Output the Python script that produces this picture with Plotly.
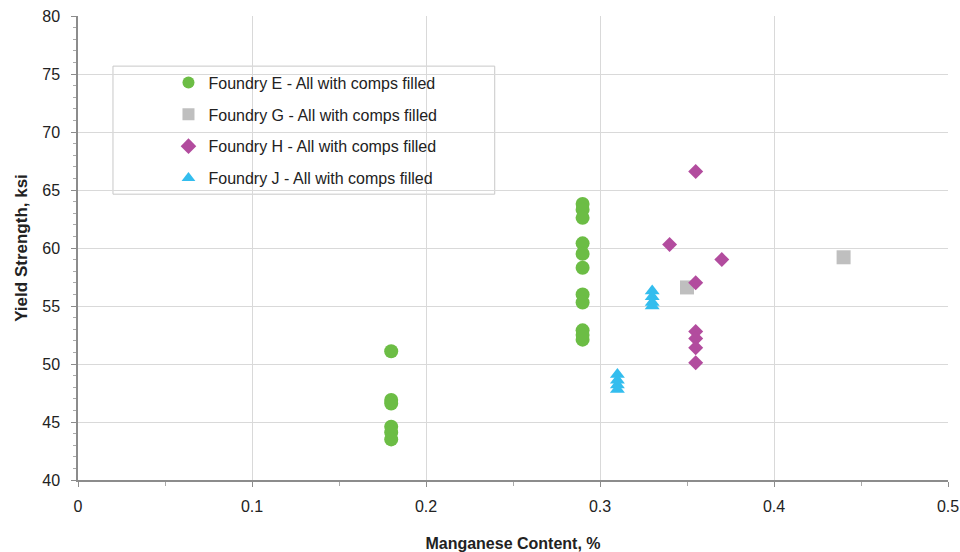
import plotly.graph_objects as go

# Foundry E
e_x = [0.18, 0.18, 0.18, 0.18, 0.18, 0.18,
       0.29, 0.29, 0.29, 0.29, 0.29, 0.29, 0.29, 0.29, 0.29, 0.29, 0.29]
e_y = [51.1, 46.9, 46.6, 44.6, 44.1, 43.5,
       63.8, 63.3, 62.6, 60.4, 59.5, 58.3, 56.0, 55.3, 52.9, 52.1, 52.5]
# Foundry G
g_x = [0.35, 0.44]
g_y = [56.6, 59.2]
# Foundry H
h_x = [0.355, 0.34, 0.37, 0.355, 0.355, 0.355, 0.355, 0.355]
h_y = [66.6, 60.3, 59.0, 57.0, 52.8, 52.2, 51.4, 50.1]
# Foundry J
j_x = [0.31, 0.31, 0.31, 0.31, 0.33, 0.33, 0.33, 0.33]
j_y = [49.1, 48.6, 48.2, 47.8, 56.3, 55.8, 55.3, 55.0]

names = ["Foundry E - All with comps filled", "Foundry G - All with comps filled",
         "Foundry H - All with comps filled", "Foundry J - All with comps filled"]

fig = go.Figure()
fig.add_trace(go.Scatter(x=e_x, y=e_y, mode="markers", name=names[0], legendgroup="E",
                         marker=dict(symbol="circle", size=14, color="#6CBD45")))
fig.add_trace(go.Scatter(x=g_x, y=g_y, mode="markers", name=names[1], legendgroup="G",
                         marker=dict(symbol="square", size=14, color="#BFBFBF")))
fig.add_trace(go.Scatter(x=h_x, y=h_y, mode="markers", name=names[2], legendgroup="H",
                         marker=dict(symbol="diamond", size=11.5, color="#B24C9E")))
fig.add_trace(go.Scatter(x=j_x, y=j_y, mode="markers", name=names[3], legendgroup="J",
                         marker=dict(symbol="triangle-up", size=13, color="#33BDEE")))

# legend frame (drawn as a shape, in plot-area fractions)
fig.add_shape(type="rect", xref="x domain", yref="y domain",
              x0=0.0402, x1=0.479, y0=0.616, y1=0.892,
              line=dict(color="#C8C8C8", width=1), fillcolor="white", layer="below")

fig.update_layout(
    width=960, height=552,
    margin=dict(l=78, r=12, t=16, b=72),
    paper_bgcolor="white", plot_bgcolor="white",
    font=dict(family="Liberation Sans, Arial, sans-serif", size=16, color="#222222"),
    showlegend=True,
    legend=dict(x=0.104, y=0.893, xanchor="left", yanchor="top",
                bgcolor="rgba(0,0,0,0)", borderwidth=0,
                font=dict(size=16), itemsizing="constant",
                tracegroupgap=8),
    xaxis=dict(range=[0, 0.5], tickvals=[0, 0.1, 0.2, 0.3, 0.4, 0.5],
               ticktext=["0", "0.1", "0.2", "0.3", "0.4", "0.5"],
               automargin=False,
               showgrid=True, gridcolor="#D9D9D9", gridwidth=1,
               showline=True, linecolor="#8C8C8C", linewidth=1.5,
               ticks="outside", ticklen=5, tickcolor="#8C8C8C",
               ticklabelstandoff=6,
               minor=dict(dtick=0.05, ticks="outside", ticklen=4, tickcolor="#AAAAAA", showgrid=False),
               zeroline=False,
               title=dict(text="<b>Manganese Content, %</b>", standoff=28, font=dict(size=16))),
    yaxis=dict(range=[40, 80], dtick=5, automargin=False,
               showgrid=True, gridcolor="#D9D9D9", gridwidth=1,
               showline=True, linecolor="#8C8C8C", linewidth=1.5,
               ticks="outside", ticklen=5, tickcolor="#8C8C8C",
               ticklabelstandoff=8,
               minor=dict(dtick=1, ticks="outside", ticklen=3, tickcolor="#AAAAAA", showgrid=False),
               zeroline=False,
               title=dict(text="<b>Yield Strength, ksi</b>", standoff=10, font=dict(size=17))),
)

fig.write_html("out.html")
